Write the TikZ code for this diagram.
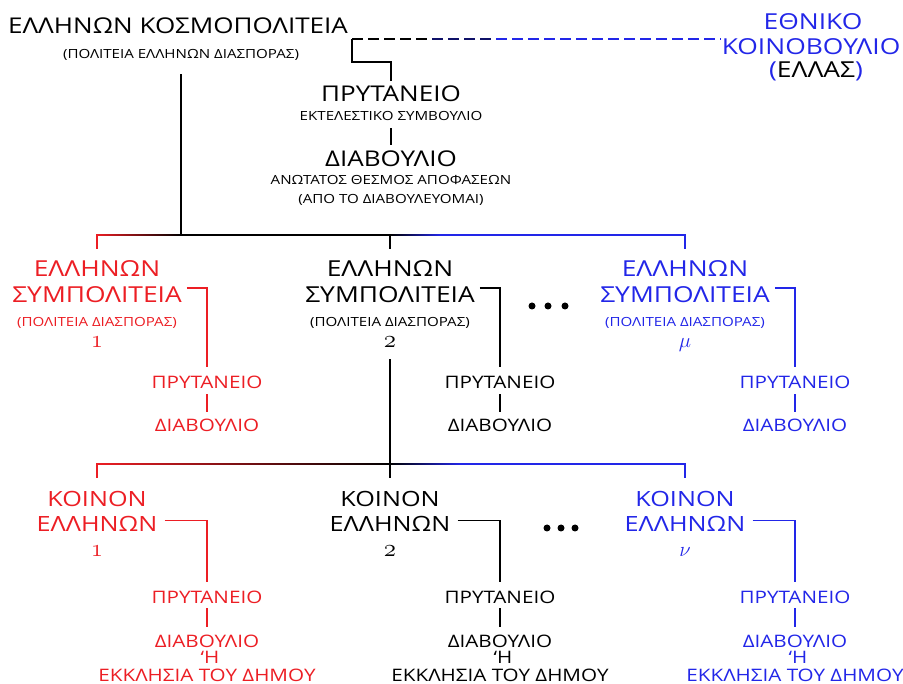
\documentclass[tikz,border=0pt]{standalone}
\usepackage{fontspec}
\setmainfont{Open Sans}[FakeStretch=1.2]

\definecolor{redgr}{RGB}{236,30,36}
\definecolor{bluegr}{RGB}{34,38,232}
\newcommand{\osnum}[1]{{\usefont{OML}{cmm}{m}{it}#1}}

\begin{document}
\begin{tikzpicture}[
    x=1pt, y=-1pt,
    link/.style={line width=1.6pt},
    dashlink/.style={line width=1.6pt, dash pattern=on 11pt off 5pt},
    drop/.style={line width=1.6pt, shorten >=11pt},
    titletext/.style={font=\fontsize{21.7}{21.7}\selectfont, inner sep=1pt, anchor=base},
    headtext/.style={font=\fontsize{22}{22}\selectfont, inner sep=1pt, anchor=base},
    lowtext/.style={font=\fontsize{21}{21}\selectfont, inner sep=1pt, anchor=base},
    subtext/.style={font=\fontsize{17.2}{17.2}\selectfont, inner sep=1pt, anchor=base},
    notetext/.style={font=\fontsize{12.6}{12.6}\selectfont, inner sep=1pt, anchor=base},
    numtext/.style={font=\fontsize{28}{28}\selectfont, inner sep=1pt, anchor=base},
    dotmark/.style={circle, fill, inner sep=0pt, minimum size=7pt}
]
    \useasboundingbox (0,0) rectangle (903,684);

    % Top: cosmopolity, parliament, prytaneio and diavoulio
    \node[titletext] (kosmo) at (178,34) {ΕΛΛΗΝΩΝ ΚΟΣΜΟΠΟΛΙΤΕΙΑ};
    \node[notetext] (kosmosub) at (181,59) {(ΠΟΛΙΤΕΙΑ ΕΛΛΗΝΩΝ ΔΙΑΣΠΟΡΑΣ)};

    \node[headtext, bluegr] (eth1) at (813,30) {ΕΘΝΙΚΟ};
    \node[headtext, bluegr] (eth2) at (811,55) {ΚΟΙΝΟΒΟΥΛΙΟ};
    \node[headtext, bluegr] (eth3) at (816,78) {(\textcolor{black}{ΕΛΛΑΣ})};

    \node[titletext] (pryt0) at (391,102) {ΠΡΥΤΑΝΕΙΟ};
    \node[notetext] (pryt0sub) at (391,121) {ΕΚΤΕΛΕΣΤΙΚΟ ΣΥΜΒΟΥΛΙΟ};
    \node[titletext] (diav0) at (391,167) {ΔΙΑΒΟΥΛΙΟ};
    \node[notetext] (diav0a) at (391,185) {ΑΝΩΤΑΤΟΣ ΘΕΣΜΟΣ ΑΠΟΦΑΣΕΩΝ};
    \node[notetext] (diav0b) at (391,204) {(ΑΠΟ ΤΟ ΔΙΑΒΟΥΛΕΥΟΜΑΙ)};

    \coordinate (elbow) at (352,39);
    \coordinate (knee) at (352,62);
    \draw[link, shorten <=4pt] (pryt0.north) |- (knee) -- (elbow);
    \path (elbow) ++(144,0) coordinate (dashB);
    \path (elbow) ++(80,0) coordinate (dashA);
    \draw[dashlink, bluegr] (elbow) -- (eth2.west |- elbow);
    \draw[dashlink, bluegr!45!black] (elbow) -- (dashB);
    \draw[dashlink, black] (elbow) -- (dashA);
    \draw[link, shorten <=6pt, shorten >=5pt] (pryt0sub) -- (diav0);

    % Upper bus
    \coordinate (busL) at (97,235);
    \coordinate (busM) at (390,235);
    \coordinate (busR) at (685,235);
    \shade[left color=redgr, right color=black] (96.2,234.2) rectangle (181,235.8);
    \fill[black] (180.9,234.2) rectangle (390,235.8);
    \shade[left color=black, right color=bluegr] (389.9,234.2) rectangle (440,235.8);
    \fill[bluegr] (439.9,234.2) rectangle (685.8,235.8);
    \draw[link, shorten <=12pt] (kosmosub.south) -- (kosmosub.south |- busL);

    % Sympoliteies
    \node[headtext, redgr] (ell1) at (97,277) {ΕΛΛΗΝΩΝ};
    \node[headtext, redgr] (symp1) at (97,303) {ΣΥΜΠΟΛΙΤΕΙΑ};
    \node[notetext, redgr] (dias1) at (97,327) {(ΠΟΛΙΤΕΙΑ ΔΙΑΣΠΟΡΑΣ)};
    \node[numtext, redgr] (num1) at (97,348) {\osnum{1}};
    \node[subtext, redgr] (pryt1) at (207,389) {ΠΡΥΤΑΝΕΙΟ};
    \node[subtext, redgr] (diav1) at (207,432) {ΔΙΑΒΟΥΛΙΟ};

    \node[headtext] (ell2) at (390,277) {ΕΛΛΗΝΩΝ};
    \node[headtext] (symp2) at (390,303) {ΣΥΜΠΟΛΙΤΕΙΑ};
    \node[notetext] (dias2) at (390,327) {(ΠΟΛΙΤΕΙΑ ΔΙΑΣΠΟΡΑΣ)};
    \node[numtext] (num2) at (390,348) {\osnum{2}};
    \node[subtext] (pryt2) at (500,389) {ΠΡΥΤΑΝΕΙΟ};
    \node[subtext] (diav2) at (500,432) {ΔΙΑΒΟΥΛΙΟ};

    \foreach \x [count=\i] in {532,548,565}
        \node[dotmark] (dmid\i) at (\x,306) {};

    \node[headtext, bluegr] (ell3) at (685,277) {ΕΛΛΗΝΩΝ};
    \node[headtext, bluegr] (symp3) at (685,303) {ΣΥΜΠΟΛΙΤΕΙΑ};
    \node[notetext, bluegr] (dias3) at (685,327) {(ΠΟΛΙΤΕΙΑ ΔΙΑΣΠΟΡΑΣ)};
    \node[headtext, bluegr] (num3) at (685,348) {$\mu$};
    \node[subtext, bluegr] (pryt3) at (795,389) {ΠΡΥΤΑΝΕΙΟ};
    \node[subtext, bluegr] (diav3) at (795,432) {ΔΙΑΒΟΥΛΙΟ};

    \draw[drop, redgr] (busL) -- (ell1.north);
    \draw[drop] (busM) -- (ell2.north);
    \draw[drop, bluegr] (busR) -- (ell3.north);

    \draw[link, redgr, shorten <=4pt, shorten >=8pt] ([yshift=7pt]symp1.east) -| (pryt1.north);
    \draw[link, shorten <=4pt, shorten >=8pt] ([yshift=7pt]symp2.east) -| (pryt2.north);
    \draw[link, bluegr, shorten <=4pt, shorten >=8pt] ([yshift=7pt]symp3.east) -| (pryt3.north);
    \draw[link, redgr, shorten <=4pt, shorten >=6pt] (pryt1) -- (diav1);
    \draw[link, shorten <=4pt, shorten >=6pt] (pryt2) -- (diav2);
    \draw[link, bluegr, shorten <=4pt, shorten >=6pt] (pryt3) -- (diav3);

    % Lower bus
    \coordinate (busBL) at (97,464);
    \coordinate (busBM) at (390,464);
    \coordinate (busBR) at (685,464);
    \shade[left color=redgr, right color=black] (96.2,463.2) rectangle (390,464.8);
    \shade[left color=black, right color=bluegr] (389.9,463.2) rectangle (460,464.8);
    \fill[bluegr] (459.9,463.2) rectangle (685.8,464.8);
    \draw[link, shorten <=10pt] (num2.south) -- (num2.south |- busBM);

    % Koina
    \node[lowtext, redgr] (koin1) at (97,507) {ΚΟΙΝΟΝ};
    \node[lowtext, redgr] (elln1) at (97,532) {ΕΛΛΗΝΩΝ};
    \node[numtext, redgr] (numb1) at (97,557) {\osnum{1}};
    \node[subtext, redgr] (prb1) at (207,603) {ΠΡΥΤΑΝΕΙΟ};
    \node[subtext, redgr] (dvb1) at (207,647) {ΔΙΑΒΟΥΛΙΟ};
    \node[subtext, redgr] (orb1) at (210,663) {‘Η};
    \node[subtext, redgr] (ekk1) at (207,681) {ΕΚΚΛΗΣΙΑ ΤΟΥ ΔΗΜΟΥ};

    \node[lowtext] (koin2) at (390,507) {ΚΟΙΝΟΝ};
    \node[lowtext] (elln2) at (390,532) {ΕΛΛΗΝΩΝ};
    \node[numtext] (numb2) at (390,557) {\osnum{2}};
    \node[subtext] (prb2) at (500,603) {ΠΡΥΤΑΝΕΙΟ};
    \node[subtext] (dvb2) at (500,647) {ΔΙΑΒΟΥΛΙΟ};
    \node[subtext] (orb2) at (503,663) {‘Η};
    \node[subtext] (ekk2) at (500,681) {ΕΚΚΛΗΣΙΑ ΤΟΥ ΔΗΜΟΥ};

    \foreach \x [count=\i] in {547,561,575}
        \node[dotmark] (dlow\i) at (\x,528) {};

    \node[lowtext, bluegr] (koin3) at (685,507) {ΚΟΙΝΟΝ};
    \node[lowtext, bluegr] (elln3) at (685,532) {ΕΛΛΗΝΩΝ};
    \node[headtext, bluegr] (numb3) at (685,557) {$\nu$};
    \node[subtext, bluegr] (prb3) at (795,603) {ΠΡΥΤΑΝΕΙΟ};
    \node[subtext, bluegr] (dvb3) at (795,647) {ΔΙΑΒΟΥΛΙΟ};
    \node[subtext, bluegr] (orb3) at (798,663) {‘Η};
    \node[subtext, bluegr] (ekk3) at (795,681) {ΕΚΚΛΗΣΙΑ ΤΟΥ ΔΗΜΟΥ};

    \draw[drop, redgr, shorten >=13pt] (busBL) -- (koin1.north);
    \draw[drop, shorten >=13pt] (busBM) -- (koin2.north);
    \draw[drop, bluegr, shorten >=13pt] (busBR) -- (koin3.north);

    \draw[link, redgr, shorten <=6pt, shorten >=7pt] ([yshift=4pt]elln1.east) -| (prb1.north);
    \draw[link, shorten <=6pt, shorten >=7pt] ([yshift=4pt]elln2.east) -| (prb2.north);
    \draw[link, bluegr, shorten <=6pt, shorten >=7pt] ([yshift=4pt]elln3.east) -| (prb3.north);
    \draw[link, redgr, shorten <=4pt, shorten >=6pt] (prb1) -- (dvb1);
    \draw[link, shorten <=4pt, shorten >=6pt] (prb2) -- (dvb2);
    \draw[link, bluegr, shorten <=4pt, shorten >=6pt] (prb3) -- (dvb3);

\end{tikzpicture}
\end{document}
